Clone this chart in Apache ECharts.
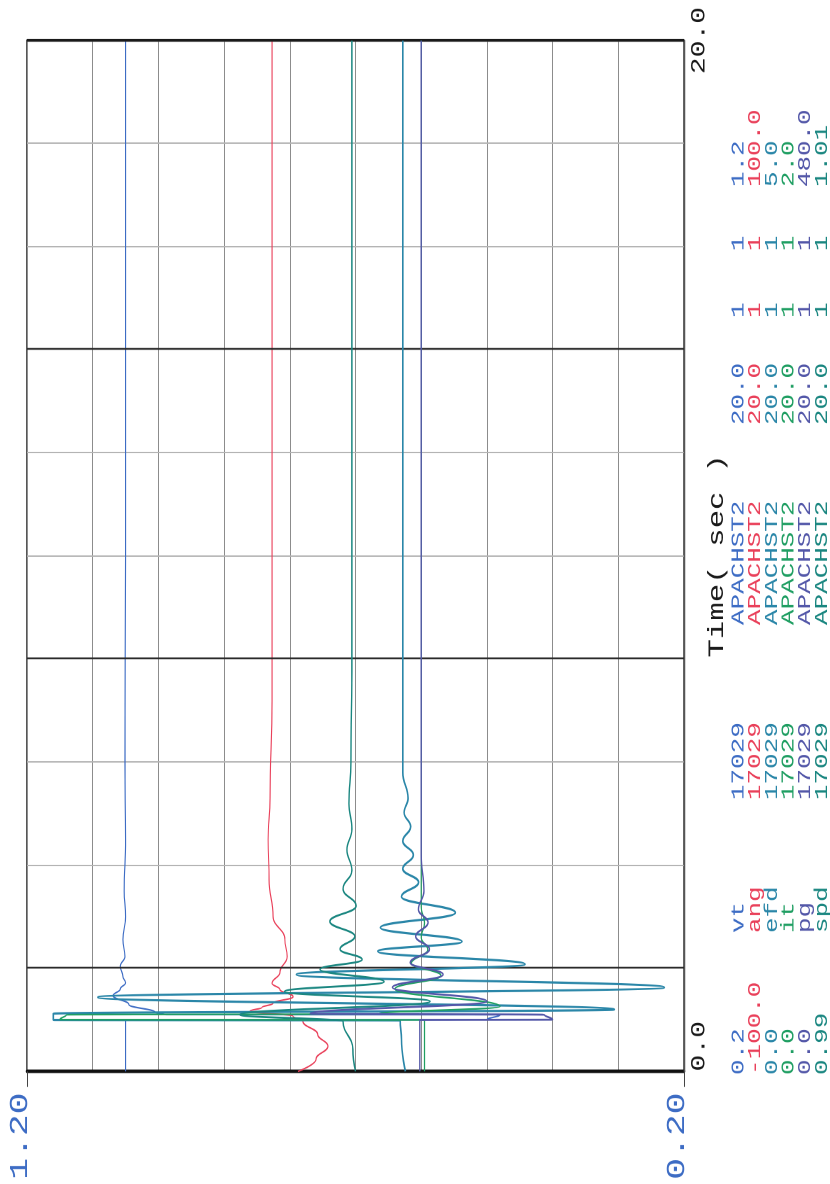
<!DOCTYPE html>
<html>
<head>
<meta charset="utf-8">
<script src="https://cdn.jsdelivr.net/npm/echarts@6/dist/echarts.min.js"></script>
<style>
html,body{margin:0;padding:0;background:#ffffff;width:830px;height:1184px;overflow:hidden;}
#wrap{position:absolute;left:0;top:0;width:846px;height:830px;transform-origin:0 0;
  transform:translate(0px,1184px) rotate(-90deg) scale(1.4,1);}
</style>
</head>
<body>
<div id="wrap"></div>
<script>
// ---------- data (time in seconds, values in each channel's own units) ----------
const seriesNames = ['vt', 'ang', 'efd', 'it', 'pg', 'spd'];
const scaleMin    = [0.2, -100, 0, 0, 0, 0.99];
const scaleMax    = [1.2, 100, 5, 2, 480, 1.01];
const scaleMinTxt = ['0.2', '-100.0', '0.0', '0.0', '0.0', '0.99'];
const scaleMaxTxt = ['1.2', '100.0', '5.0', '2.0', '480.0', '1.01'];
const busNumber   = '17029';
const busName     = 'APACHST2';
const endTimeTxt  = '20.0';
const flagA       = '1';
const flagB       = '1';

const timeMin = 0, timeMax = 20, timeStep = 2;
const timeTickLabels = {0: '0.0', 20: '20.0'};
const valueTickLabels = {0.2: '0.20', 1.2: '1.20'};
const valueEndTicks = [0.2, 1.2];
const darkTimeLines = [2, 8, 14];

const vtTime = [0, 0.5, 1.0, 1.003, 1.1, 1.103, 1.145, 1.3, 1.47, 1.6, 1.72, 1.84, 2.04, 2.23, 2.56, 3.0, 3.5, 4.5, 6, 10, 20];
const vtVal  = [1.05, 1.05, 1.05, 0.50, 0.48, 0.99, 1.005, 1.045, 1.069, 1.058, 1.050, 1.054, 1.058, 1.051, 1.054, 1.050, 1.052, 1.050, 1.051, 1.050, 1.050];

const angTime = [0, 0.24, 0.49, 0.72, 0.97, 1.07, 1.17, 1.24, 1.32, 1.45, 1.59, 1.71, 1.92, 2.23, 2.56, 3.01, 3.72, 4.5, 5.3, 7.2, 20];
const angVal  = [17.5, 12.0, 8.4, 11.5, 16.0, 19.0, 32.1, 28.5, 25.1, 19.0, 23.0, 25.4, 23.0, 20.8, 21.5, 25.1, 26.3, 26.6, 26.0, 25.4, 25.4];

const efdTime = [0, 0.62, 0.99, 1.0, 1.12, 1.2, 1.44, 1.63, 1.88, 2.08, 2.33, 2.52, 2.79, 3.08, 3.39, 3.67, 3.93, 4.2, 4.47, 4.75, 5.02, 5.3, 5.8, 7, 20];
const efdVal  = [2.12, 2.15, 2.16, 4.80, 4.80, 0.53, 4.46, 0.15, 2.95, 1.21, 2.33, 1.69, 2.31, 1.74, 2.15, 2.02, 2.14, 2.06, 2.14, 2.08, 2.13, 2.10, 2.14, 2.14, 2.14];

const itTime = [0, 1.0, 1.005, 1.1, 1.115, 1.26, 1.6, 1.86, 2.1, 2.36, 2.6, 2.88, 3.2, 4, 20];
const itVal  = [0.79, 0.79, 1.90, 1.88, 0.93, 0.56, 0.88, 0.74, 0.83, 0.78, 0.80, 0.79, 0.80, 0.80, 0.80];

const pgTime = [0, 1.0, 1.005, 1.1, 1.12, 1.36, 1.63, 1.88, 2.11, 2.37, 2.62, 2.89, 3.14, 3.5, 4.2, 20];
const pgVal  = [193, 193, 96, 102, 273, 144, 213, 176, 200, 186, 196, 187, 194, 190, 192, 192];

const spdTime = [0, 0.43, 0.97, 1.1, 1.36, 1.55, 1.74, 1.98, 2.17, 2.37, 2.62, 2.91, 3.21, 3.54, 3.9, 4.3, 4.7, 5.2, 6.0, 8, 20];
const spdVal  = [1.0000, 1.00008, 1.00038, 1.00352, 0.99773, 1.00216, 0.99913, 1.00108, 0.99980, 1.00047, 1.00002, 1.00078, 0.99998, 1.00038, 1.00011, 1.00026, 1.00011, 1.00020, 1.00014, 1.00011, 1.00011];

// ---------- styling ----------
const colors = ['#3d6cc4', '#e9405a', '#2a86a8', '#1f9e62', '#5357a8', '#1a8680'];
const widths = [1.1, 1.1, 1.6, 1.2, 1.4, 1.4];
const FONT = '"Liberation Mono", "DejaVu Sans Mono", monospace';

const times = [vtTime, angTime, efdTime, itTime, pgTime, spdTime];
const vals  = [vtVal, angVal, efdVal, itVal, pgVal, spdVal];

const chart = echarts.init(document.getElementById('wrap'), null, {devicePixelRatio: 2});

const yAxes = seriesNames.map((n, i) => {
  if (i === 0) {
    return {
      type: 'value', position: 'left', min: scaleMin[0], max: scaleMax[0], interval: 0.1,
      axisLine: {show: true, onZero: false, lineStyle: {color: '#111', width: 2.5}},
      axisTick: {show: false},
      splitLine: {show: true, lineStyle: {color: '#8c8c8c', width: 1}},
      axisLabel: {
        show: true, margin: 15, color: colors[0], fontFamily: FONT, fontSize: 26,
        verticalAlign: 'bottom', lineHeight: 14,
        formatter: v => {
          for (const k in valueTickLabels) { if (Math.abs(v - Number(k)) < 1e-6) return valueTickLabels[k]; }
          return '';
        }
      }
    };
  }
  return {type: 'value', min: scaleMin[i], max: scaleMax[i], show: false, splitLine: {show: false}};
});
// extra axis only for the two end ticks of the value scale
yAxes.push({
  type: 'value', position: 'left', offset: 0, min: scaleMin[0], max: scaleMax[0],
  axisLine: {show: false}, axisLabel: {show: false}, splitLine: {show: false},
  axisTick: {show: true, customValues: valueEndTicks, length: 11, lineStyle: {color: '#444', width: 1}}
});

const series = seriesNames.map((n, i) => {
  const s = {
    name: n, type: 'line', xAxisIndex: 0, yAxisIndex: i,
    data: times[i].map((t, k) => [t, vals[i][k]]),
    showSymbol: false, symbol: 'none', smooth: 0.45, smoothMonotone: 'x',
    lineStyle: {color: colors[i], width: widths[i]},
    itemStyle: {color: colors[i]},
    z: 3 + i
  };
  if (i === 0) {
    s.markLine = {
      silent: true, symbol: ['none', 'none'], label: {show: false},
      lineStyle: {color: '#2a2a2a', width: 1.3, type: 'solid'},
      data: darkTimeLines.map(t => ({xAxis: t})).concat([{xAxis: timeMax, lineStyle: {color: '#1a1a1a', width: 2}}])
    };
  }
  return s;
});

// legend table (drawn as text under the plot)
const colX = [77.9, 179.3, 274.3, 399.3, 542.1, 618.6, 666.4, 712.1];
const rowY0 = 738.5, rowDY = 16.7;
const graphics = [];
seriesNames.forEach((n, i) => {
  const cells = [scaleMinTxt[i], n, busNumber, busName, endTimeTxt, flagA, flagB, scaleMaxTxt[i]];
  cells.forEach((txt, c) => {
    graphics.push({
      type: 'text', x: colX[c], y: rowY0 + rowDY * i, silent: true,
      style: {text: txt, fill: colors[i], font: '18.5px ' + FONT,
              textAlign: 'left', textVerticalAlign: 'middle', verticalAlign: 'middle'}
    });
  });
});

chart.setOption({
  animation: false,
  backgroundColor: '#ffffff',
  grid: {left: 80, right: 29.3, top: 27, bottom: 146, show: true, borderColor: '#1e1e1e', borderWidth: 1.6, backgroundColor: 'transparent'},
  xAxis: [{
    type: 'value', min: timeMin, max: timeMax, interval: timeStep,
    name: 'Time( sec )', nameLocation: 'middle', nameGap: 22, nameMoveOverlap: false,
    nameTextStyle: {color: '#1a1a1a', fontFamily: FONT, fontSize: 22},
    axisLine: {show: true, onZero: false, lineStyle: {color: '#555', width: 1.4}},
    axisTick: {show: false},
    splitLine: {show: true, lineStyle: {color: '#b4b4b4', width: 1}},
    axisLabel: {
      show: true, margin: 5, color: '#1a1a1a', fontFamily: FONT, fontSize: 20,
      alignMinLabel: 'left', alignMaxLabel: 'center',
      formatter: v => (timeTickLabels[v] !== undefined ? timeTickLabels[v] : '')
    }
  }],
  yAxis: yAxes,
  series: series,
  graphic: graphics
});
</script>
</body>
</html>
